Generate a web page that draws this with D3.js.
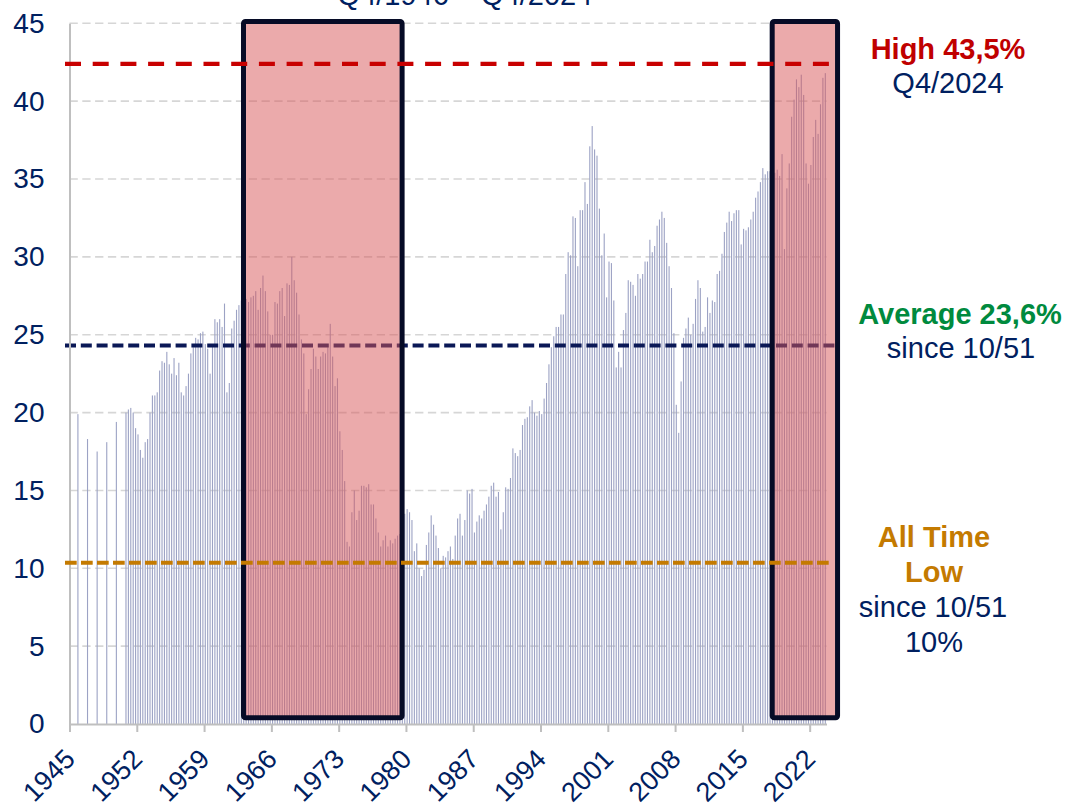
<!DOCTYPE html>
<html>
<head>
<meta charset="utf-8">
<script src="https://cdn.jsdelivr.net/npm/d3@7"></script>
<style>
    body { margin: 0; background: #ffffff; }
    svg { display: block; font-family: "Liberation Sans", Arial, sans-serif; }
</style>
</head>
<body>
<div id="chart"></div>
<script>
// x axis runs in quarters, labels every 7 years
const axisStartYear = 1945;
const axisEndYear = 2023.75;
const xTickYears = [1945, 1952, 1959, 1966, 1973, 1980, 1987, 1994, 2001, 2008, 2015, 2022];
const yTickValues = [0, 5, 10, 15, 20, 25, 30, 35, 40, 45];

// early years: one value per year (Q4)
const annualQuarters = ["Q4/1945", "Q4/1946", "Q4/1947", "Q4/1948", "Q4/1949"];
const annualValues = [19.9, 18.3, 17.5, 18.1, 19.4];

// quarterly series, first quarter below
const quarterlyFirst = "Q4/1950";
const quarterlyValues = [
    20.0, 20.2, 20.3, 20.0, 19.0, 18.6, 17.6, 17.1, 18.1, 18.3,
    20.0, 21.1, 21.1, 21.3, 22.7, 23.3, 23.2, 23.9, 23.1, 22.5,
    23.5, 22.4, 23.2, 21.3, 21.1, 21.7, 22.5, 23.8, 24.2, 24.8,
    24.7, 25.1, 25.2, 24.4, 24.1, 22.5, 24.4, 26.0, 25.8, 26.0,
    25.5, 27.0, 21.3, 21.9, 25.4, 25.9, 26.6,
    26.9, 27.2, 27.0, 27.3,
    27.1, 27.4, 27.5, 27.8, 26.6, 28.0, 28.8, 27.8, 26.5, 25.0,
    25.0, 27.1, 27.0, 27.8, 28.0, 26.2, 28.3, 28.2, 30.0, 28.5,
    27.7, 26.3, 24.7, 23.8, 19.9, 21.5, 22.8, 24.1, 23.6, 22.8,
    23.6, 23.9, 23.8, 24.2, 25.7, 23.6, 21.7, 22.2, 18.8, 17.6,
    15.6, 11.7, 11.4, 13.6, 15.0, 13.1, 13.7, 15.3, 15.3, 15.2,
    15.4, 14.1, 14.1, 13.2, 12.3, 11.4, 11.8, 12.1, 11.4, 11.8,
    11.6, 11.9, 12.1,
    12.2, 12.9, 13.5,
    13.8, 13.6, 13.1, 11.1, 11.6, 10.0, 9.5, 9.9, 11.5, 12.3,
    13.4, 12.8, 12.1, 11.3, 10.0, 10.8, 10.7, 11.1, 11.4, 10.6,
    12.1, 13.2, 13.5, 12.1, 13.1, 15.0, 14.8, 15.1, 12.3, 13.0,
    13.4, 13.2, 13.7, 14.1, 14.6, 15.3, 15.5, 14.6, 14.9, 12.5,
    13.6, 15.2, 15.1, 15.8, 17.7, 17.4, 17.2, 17.6, 19.2, 19.6,
    19.7, 20.4, 20.8, 20.0, 19.8, 20.1, 19.9, 20.9, 21.9, 23.1,
    24.2, 24.9, 25.5, 25.5, 26.3, 26.3,
    28.9, 30.3, 30.1, 32.6, 32.5, 29.4, 33.0, 33.0, 34.8, 33.4,
    37.1, 38.4, 36.9, 36.5, 33.1, 30.1, 31.5, 27.4, 29.7, 29.6, 27.2,
    22.9, 23.9, 22.9, 25.3, 26.4, 28.5, 28.4, 28.2, 27.5, 28.9,
    28.6, 28.9, 29.7, 29.7, 31.1, 30.3, 30.7, 32.0, 32.4, 32.9,
    32.5, 30.9, 29.4, 28.0, 25.1, 20.5, 18.7, 22.0, 24.8, 25.4,
    26.1, 25.0, 25.7, 27.3, 28.5, 28.0, 25.2, 25.5, 27.4, 26.4,
    27.2, 27.1, 28.9, 29.1, 30.2, 31.6, 32.2, 32.9, 32.3, 32.8,
    33.0, 33.0, 30.8, 31.8, 31.7, 31.9, 32.4, 32.9, 33.8, 34.2,
    34.8, 35.7, 35.3, 35.5,
    35.5, 35.8, 35.4,
    35.6, 35.2, 36.6, 30.5, 34.4, 36.0, 39.0, 40.1, 41.4, 40.9,
    41.7, 40.4, 36.0, 34.7, 35.9, 37.7, 38.8, 37.9, 39.8, 41.5, 41.8
];

// reference levels as drawn
const highLevel = 42.4;
const averageLevel = 24.3;
const lowLevel = 10.35;

// highlighted periods (axis years) and their vertical extent
const highlightPeriods = [[1963.1, 1979.6], [2018.1, 2024.9]];
const highlightRange = [0.4, 45.12];

const periodTitle = "Q4/1946 \u2013 Q4/2024";

document.addEventListener("DOMContentLoaded", function () {
    drawChart();
});

function quarterToYear(label) {
    const [q, yr] = label.split("/");
    return +yr + (+q.slice(1) - 1) / 4;
}

function drawChart() {
    const width = 1068;
    const height = 809;
    const navy = "#002060";

    const svg = d3.select("#chart")
        .append("svg")
        .attr("width", width)
        .attr("height", height);

    const x = d3.scaleLinear()
        .domain([axisStartYear, axisEndYear])
        .range([69.5, 826.5]);

    const y = d3.scaleLinear()
        .domain([0, 45])
        .range([724, 23.3]);

    // build bar data
    const firstT = quarterToYear(quarterlyFirst);
    const bars = annualQuarters.map((q, i) => ({t: quarterToYear(q), v: annualValues[i]}))
        .concat(quarterlyValues.map((v, i) => ({t: firstT + i / 4, v: v})));

    // gridlines
    svg.append("g")
        .selectAll("line")
        .data(yTickValues.filter(d => d > 0))
        .enter()
        .append("line")
        .attr("x1", x(axisStartYear))
        .attr("x2", x(axisEndYear))
        .attr("y1", d => y(d))
        .attr("y2", d => y(d))
        .attr("stroke", "#d6d6d6")
        .attr("stroke-width", 1.6)
        .attr("stroke-dasharray", "8.3,4.5");

    // bars
    svg.append("g")
        .selectAll("rect")
        .data(bars)
        .enter()
        .append("rect")
        .attr("x", d => x(d.t + 0.125) - 0.55)
        .attr("y", d => y(d.v))
        .attr("width", 1.1)
        .attr("height", d => y(0) - y(d.v))
        .attr("fill", "#9ca2c4");

    // average line sits under the highlight boxes
    svg.append("line")
        .attr("x1", 65).attr("x2", 837)
        .attr("y1", y(averageLevel)).attr("y2", y(averageLevel))
        .attr("stroke", "#0a1856")
        .attr("stroke-width", 4)
        .attr("stroke-dasharray", "11,4.8");

    // highlight boxes
    const boxes = svg.append("g");
    boxes.selectAll("rect.fill")
        .data(highlightPeriods)
        .enter()
        .append("rect")
        .attr("class", "fill")
        .attr("x", d => x(d[0]))
        .attr("y", y(highlightRange[1]))
        .attr("width", d => x(d[1]) - x(d[0]))
        .attr("height", y(highlightRange[0]) - y(highlightRange[1]))
        .attr("fill", "#d75557")
        .attr("fill-opacity", 0.5);

    // axes
    const xAxis = svg.append("g")
        .attr("transform", `translate(0,${y(0)})`)
        .call(d3.axisBottom(x).tickValues(xTickYears).tickFormat(d3.format("d")).tickSize(8).tickSizeOuter(0));
    xAxis.select(".domain").attr("stroke", "#bfbfbf").attr("stroke-width", 2);
    xAxis.selectAll(".tick line").attr("stroke", "#bfbfbf").attr("stroke-width", 2);
    xAxis.selectAll(".tick text")
        .attr("fill", navy)
        .style("font-size", "27px")
        .attr("text-anchor", "end")
        .attr("x", 0)
        .attr("y", 30)
        .attr("dy", "0.35em")
        .attr("transform", "rotate(-45 0 30)");

    const yAxis = svg.append("g")
        .attr("transform", `translate(${x(axisStartYear)},0)`)
        .call(d3.axisLeft(y).tickValues(yTickValues).tickSize(0).tickPadding(25).tickSizeOuter(0));
    yAxis.select(".domain").attr("stroke", "#bfbfbf").attr("stroke-width", 2);
    yAxis.selectAll(".tick text")
        .attr("fill", navy)
        .style("font-size", "28px");

    boxes.selectAll("rect.border")
        .data(highlightPeriods)
        .enter()
        .append("rect")
        .attr("class", "border")
        .attr("x", d => x(d[0]))
        .attr("y", y(highlightRange[1]))
        .attr("width", d => x(d[1]) - x(d[0]))
        .attr("height", y(highlightRange[0]) - y(highlightRange[1]))
        .attr("rx", 2)
        .attr("fill", "none")
        .attr("stroke", "#060b26")
        .attr("stroke-width", 5);

    // high and low lines on top
    svg.append("line")
        .attr("x1", 65).attr("x2", 838)
        .attr("y1", y(highLevel)).attr("y2", y(highLevel))
        .attr("stroke", "#c80000")
        .attr("stroke-width", 4.3)
        .attr("stroke-dasharray", "16,11.7");

    svg.append("line")
        .attr("x1", 65).attr("x2", 830)
        .attr("y1", y(lowLevel)).attr("y2", y(lowLevel))
        .attr("stroke", "#c47a00")
        .attr("stroke-width", 4)
        .attr("stroke-dasharray", "11.7,4.3");

    // annotations
    const notes = [
        {text: "High 43,5%", x: 948, y: 59, color: "#c00000", bold: true},
        {text: "Q4/2024", x: 948, y: 93, color: navy, bold: false},
        {text: "Average 23,6%", x: 960, y: 324, color: "#008a3e", bold: true},
        {text: "since 10/51", x: 961, y: 358, color: navy, bold: false},
        {text: "All Time", x: 934, y: 547, color: "#c47a00", bold: true},
        {text: "Low", x: 934, y: 582, color: "#c47a00", bold: true},
        {text: "since 10/51", x: 933, y: 617, color: navy, bold: false},
        {text: "10%", x: 934, y: 652, color: navy, bold: false}
    ];

    svg.append("g")
        .selectAll("text")
        .data(notes)
        .enter()
        .append("text")
        .attr("x", d => d.x)
        .attr("y", d => d.y)
        .attr("text-anchor", "middle")
        .attr("fill", d => d.color)
        .style("font-size", "29px")
        .style("font-weight", d => d.bold ? "bold" : "normal")
        .text(d => d.text);

    // period title, mostly above the visible area
    svg.append("text")
        .attr("x", 465)
        .attr("y", 5)
        .attr("text-anchor", "middle")
        .attr("fill", navy)
        .style("font-size", "29px")
        .text(periodTitle);
}
</script>
</body>
</html>
